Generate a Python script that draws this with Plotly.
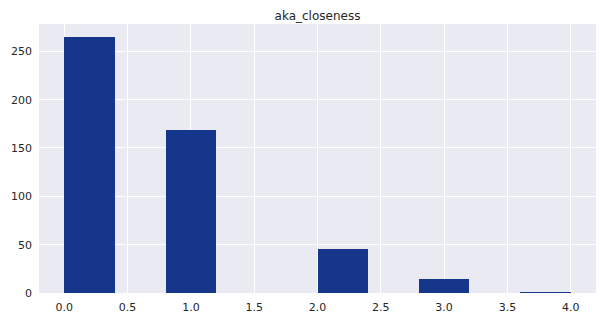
import plotly.graph_objects as go

bin_edges = [0.0, 0.4, 0.8, 1.2, 1.6, 2.0, 2.4, 2.8, 3.2, 3.6, 4.0]
counts = [265, 0, 169, 0, 0, 46, 0, 15, 0, 1]
x_ticks = [0.0, 0.5, 1.0, 1.5, 2.0, 2.5, 3.0, 3.5, 4.0]
y_ticks = [0, 50, 100, 150, 200, 250]
title = "aka_closeness"

centers = [(bin_edges[i] + bin_edges[i + 1]) / 2 for i in range(len(counts))]
widths = [bin_edges[i + 1] - bin_edges[i] for i in range(len(counts))]

fig = go.Figure(go.Bar(
    x=centers, y=counts, width=widths,
    marker=dict(color="#15368a", line=dict(width=0)),
    hoverinfo="x+y",
))

font = dict(family="DejaVu Sans", size=11, color="#262626")
fig.update_layout(
    width=602, height=321,
    margin=dict(l=39, r=6, t=24, b=28),
    paper_bgcolor="white", plot_bgcolor="#eaeaf2",
    font=font,
    showlegend=False,
    title=dict(text=title, x=(39 + 596) / 2 / 602, xanchor="center",
               y=1 - 16 / 321, yanchor="middle",
               font=dict(family="DejaVu Sans", size=12, color="#262626")),
    bargap=0,
)
fig.update_xaxes(range=[-0.2, 4.2], tickvals=x_ticks,
                 ticktext=[f"{v:.1f}" for v in x_ticks],
                 showgrid=True, gridcolor="white", gridwidth=1,
                 zeroline=False, showline=False, ticks="", ticklabelstandoff=6)
fig.update_yaxes(range=[0, 278.25], tickvals=y_ticks,
                 showgrid=True, gridcolor="white", gridwidth=1,
                 zeroline=False, showline=False, ticks="", ticklabelstandoff=6)

fig.write_html("out.html")
